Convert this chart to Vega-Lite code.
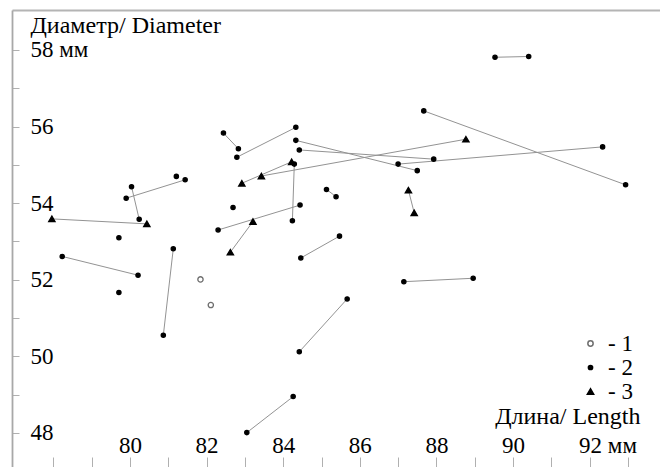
{
  "$schema": "https://vega.github.io/schema/vega-lite/v6.json",
  "width": 648,
  "height": 457,
  "autosize": {"type": "none"},
  "padding": {"left": 12, "top": 10, "right": 0, "bottom": 0},
  "background": "white",
  "config": {
    "view": {"stroke": null},
    "font": "Liberation Serif",
    "axis": {"grid": false, "domainColor": "#a8a8a8", "tickColor": "#b0b0b0", "labelColor": "black", "titleColor": "black", "labelFont": "Liberation Serif", "titleFont": "Liberation Serif", "labelFontSize": 23, "titleFontSize": 24, "titleFontWeight": "normal"},
    "legend": {"labelFont": "Liberation Serif"}
  },
  "data": {
    "values": [
      {"x": 81.84, "y": 52.01, "t": "1"},
      {"x": 82.11, "y": 51.34, "t": "1"},
      {"x": 81.21, "y": 54.70, "t": "2"},
      {"x": 79.71, "y": 53.10, "t": "2"},
      {"x": 79.71, "y": 51.67, "t": "2"},
      {"x": 82.69, "y": 53.89, "t": "2"},
      {"x": 79.90, "y": 54.13, "t": "2", "pair": "p1"},
      {"x": 81.44, "y": 54.61, "t": "2", "pair": "p1"},
      {"x": 80.04, "y": 54.43, "t": "2", "pair": "p2"},
      {"x": 80.24, "y": 53.58, "t": "2", "pair": "p2"},
      {"x": 78.23, "y": 52.61, "t": "2", "pair": "p3"},
      {"x": 80.21, "y": 52.12, "t": "2", "pair": "p3"},
      {"x": 81.13, "y": 52.81, "t": "2", "pair": "p4"},
      {"x": 80.87, "y": 50.55, "t": "2", "pair": "p4"},
      {"x": 82.44, "y": 55.83, "t": "2", "pair": "p5"},
      {"x": 82.83, "y": 55.42, "t": "2", "pair": "p5"},
      {"x": 82.79, "y": 55.20, "t": "2", "pair": "p6"},
      {"x": 84.33, "y": 55.98, "t": "2", "pair": "p6"},
      {"x": 82.30, "y": 53.30, "t": "2", "pair": "p7"},
      {"x": 84.44, "y": 53.95, "t": "2", "pair": "p7"},
      {"x": 84.29, "y": 55.02, "t": "2", "pair": "p8"},
      {"x": 84.24, "y": 53.54, "t": "2", "pair": "p8"},
      {"x": 85.13, "y": 54.36, "t": "2", "pair": "p9"},
      {"x": 85.38, "y": 54.17, "t": "2", "pair": "p9"},
      {"x": 85.47, "y": 53.14, "t": "2", "pair": "p10"},
      {"x": 84.46, "y": 52.57, "t": "2", "pair": "p10"},
      {"x": 87.15, "y": 51.95, "t": "2", "pair": "p11"},
      {"x": 88.96, "y": 52.04, "t": "2", "pair": "p11"},
      {"x": 87.67, "y": 56.41, "t": "2", "pair": "p12"},
      {"x": 92.94, "y": 54.48, "t": "2", "pair": "p12"},
      {"x": 84.33, "y": 55.64, "t": "2", "pair": "p13"},
      {"x": 87.50, "y": 54.85, "t": "2", "pair": "p13"},
      {"x": 84.42, "y": 55.39, "t": "2", "pair": "p14"},
      {"x": 87.93, "y": 55.15, "t": "2", "pair": "p14"},
      {"x": 87.00, "y": 55.02, "t": "2", "pair": "p15"},
      {"x": 92.34, "y": 55.47, "t": "2", "pair": "p15"},
      {"x": 89.53, "y": 57.81, "t": "2", "pair": "p16"},
      {"x": 90.41, "y": 57.83, "t": "2", "pair": "p16"},
      {"x": 84.42, "y": 50.12, "t": "2", "pair": "p17"},
      {"x": 85.67, "y": 51.50, "t": "2", "pair": "p17"},
      {"x": 83.05, "y": 48.01, "t": "2", "pair": "p18"},
      {"x": 84.26, "y": 48.95, "t": "2", "pair": "p18"},
      {"x": 77.96, "y": 53.59, "t": "3", "pair": "t1"},
      {"x": 80.44, "y": 53.46, "t": "3", "pair": "t1"},
      {"x": 82.62, "y": 52.72, "t": "3", "pair": "t2"},
      {"x": 83.21, "y": 53.52, "t": "3", "pair": "t2"},
      {"x": 82.92, "y": 54.52, "t": "3", "pair": "t3"},
      {"x": 84.22, "y": 55.08, "t": "3", "pair": "t3"},
      {"x": 83.43, "y": 54.71, "t": "3", "pair": "t4"},
      {"x": 88.77, "y": 55.67, "t": "3", "pair": "t4"},
      {"x": 87.27, "y": 54.34, "t": "3", "pair": "t5"},
      {"x": 87.42, "y": 53.75, "t": "3", "pair": "t5"}
    ]
  },
  "resolve": {"axis": {"x": "independent"}},
  "layer": [
    {
      "transform": [{"filter": "datum.pair != null"}],
      "mark": {"type": "line", "color": "#939393", "strokeWidth": 1},
      "encoding": {
        "x": {
          "field": "x", "type": "quantitative",
          "scale": {"domain": [76.919, 93.838], "nice": false, "zero": false},
          "axis": {
            "orient": "bottom", "values": [78,79,80,81,82,83,84,85,86,87,88,89,90,91,92,93],
            "domain": false, "tickSize": -10, "tickWidth": 1, "labelPadding": -5,
            "labelBaseline": "alphabetic",
            "labelExpr": "(datum.value % 2 == 0 && datum.value >= 80 && datum.value <= 92) ? (datum.value == 92 ? '92 мм' : datum.label) : ''",
            "labelAlign": {"condition": {"test": "datum.value == 92", "value": "left"}, "value": "center"},
            "labelOffset": {"condition": {"test": "datum.value == 92", "value": -11}, "value": 0},
            "labelFlush": false, "labelOverlap": false,
            "title": "Длина/ Length", "titleAlign": "right", "titleBaseline": "alphabetic",
            "titleX": 628, "titleY": -44, "titleAnchor": null
          }
        },
        "y": {
          "field": "y", "type": "quantitative",
          "scale": {"domain": [47.112, 59.044], "nice": false, "zero": false},
          "axis": {
            "orient": "left", "values": [48,49,50,51,52,53,54,55,56,57,58],
            "domain": true, "domainWidth": 1.8, "tickSize": -7, "labelPadding": -11,
            "labelAlign": "left", "labelBaseline": "middle",
            "labelExpr": "(datum.value % 2 == 0) ? (datum.value == 58 ? '58 мм' : datum.label) : ''",
            "labelFlush": false, "labelOverlap": false,
            "title": "Диаметр/ Diameter", "titleAngle": 0, "titleAlign": "left", "titleBaseline": "alphabetic",
            "titleX": 18, "titleY": 22, "titleAnchor": null
          }
        },
        "detail": {"field": "pair", "type": "nominal"}
      }
    },
    {
      "mark": {"type": "point", "filled": false, "opacity": 1, "strokeWidth": 1.3},
      "encoding": {
        "x": {
          "field": "x", "type": "quantitative",
          "axis": {"orient": "top", "domain": true, "domainWidth": 1.8, "domainColor": "#b4b4b4", "ticks": false, "labels": false, "title": null}
        },
        "y": {"field": "y", "type": "quantitative"},
        "shape": {
          "field": "t", "type": "nominal",
          "scale": {"domain": ["1", "2", "3"], "range": ["circle", "circle", "triangle-up"]},
          "legend": {
            "orient": "none", "legendX": 567, "legendY": 322, "title": null, "padding": 0,
            "labelExpr": "'- ' + datum.label", "labelFontSize": 23,
            "labelColor": "black", "rowPadding": 0, "labelOffset": 6
          }
        },
        "fill": {
          "field": "t", "type": "nominal",
          "scale": {"domain": ["1", "2", "3"], "range": ["white", "black", "black"]},
          "legend": {
            "orient": "none", "legendX": 567, "legendY": 322, "title": null, "padding": 0,
            "labelExpr": "'- ' + datum.label", "labelFontSize": 23,
            "labelColor": "black", "rowPadding": 0, "labelOffset": 6
          }
        },
        "stroke": {
          "field": "t", "type": "nominal",
          "scale": {"domain": ["1", "2", "3"], "range": ["#6e6e6e", "black", "black"]},
          "legend": {
            "orient": "none", "legendX": 567, "legendY": 322, "title": null, "padding": 0,
            "labelExpr": "'- ' + datum.label", "labelFontSize": 23,
            "labelColor": "black", "rowPadding": 0, "labelOffset": 6
          }
        },
        "size": {
          "field": "t", "type": "nominal",
          "scale": {"type": "ordinal", "domain": ["1", "2", "3"], "range": [28, 18, 40]},
          "legend": {
            "orient": "none", "legendX": 567, "legendY": 322, "title": null, "padding": 0,
            "labelExpr": "'- ' + datum.label", "labelFontSize": 23,
            "labelColor": "black", "rowPadding": 0, "labelOffset": 6
          }
        }
      }
    }
  ]
}
